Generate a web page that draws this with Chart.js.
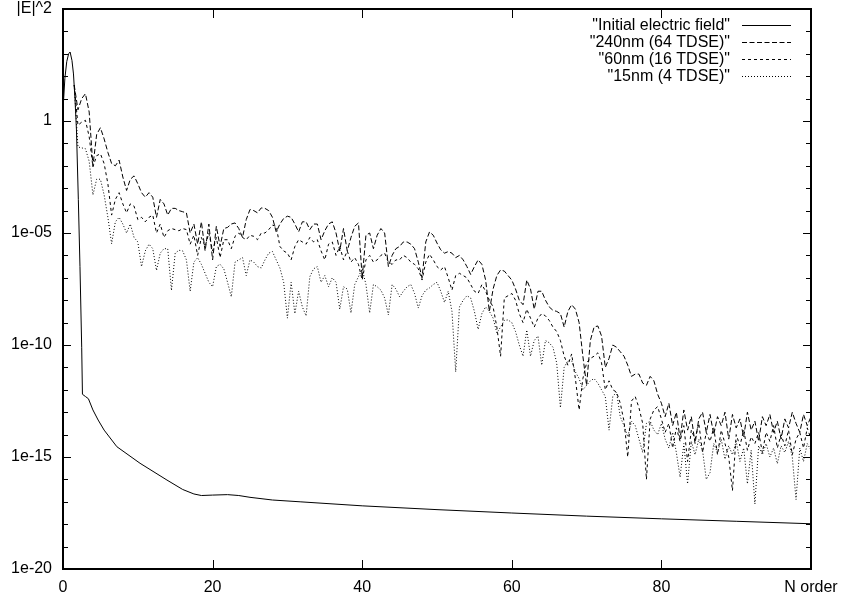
<!DOCTYPE html>
<html>
<head>
<meta charset="utf-8">
<script src="https://cdn.jsdelivr.net/npm/chart.js@4/dist/chart.umd.min.js"></script>
<style>
html,body{margin:0;padding:0;background:#fff;}
#wrap{width:843px;height:601px;position:relative;}
</style>
</head>
<body>
<div id="wrap"><canvas id="c" width="843" height="601"></canvas></div>
<script>
// ---- data (|E|^2 given as log10 values; y axis is in decades) ----
const nOrder = [
0,0.5,1,1.5,2,2.5,3,3.5,4,4.5, 5,5.5,6,6.5,7,7.5,8,8.5,9,9.5,
10,10.5,11,11.5,12,12.5,13,13.5,14,14.5, 15,15.5,16,16.5,17,17.5,18,18.5,19,19.5,
20,20.5,21,21.5,22,22.5,23,23.5,24,24.5, 25,25.5,26,26.5,27,27.5,28,28.5,29,29.5,
30,30.5,31,31.5,32,32.5,33,33.5,34,34.5, 35,35.5,36,36.5,37,37.5,38,38.5,39,39.5,
40,40.5,41,41.5,42,42.5,43,43.5,44,44.5, 45,45.5,46,46.5,47,47.5,48,48.5,49,49.5,
50,50.5,51,51.5,52,52.5,53,53.5,54,54.5, 55,55.5,56,56.5,57,57.5,58,58.5,59,59.5,
60,60.5,61,61.5,62,62.5,63,63.5,64,64.5, 65,65.5,66,66.5,67,67.5,68,68.5,69,69.5,
70,70.5,71,71.5,72,72.5,73,73.5,74,74.5, 75,75.5,76,76.5,77,77.5,78,78.5,79,79.5,
80,80.5,81,81.5,82,82.5,83,83.5,84,84.5, 85,85.5,86,86.5,87,87.5,88,88.5,89,89.5,
90,90.5,91,91.5,92,92.5,93,93.5,94,94.5, 95,95.5,96,96.5,97,97.5,98,98.5,99,99.5,
100];

const initialN = [0,0.25,0.5,0.75,0.95,1.2,1.4,1.6,1.8,2.05,2.27,2.5,2.6,3.0,3.4,4.0,4.7,5.5,7.2,10.3,13.9,16,17.5,18.5,20,22,23.5,25,28,31.7,40,50,60,70,80,90,100];
const initialLogE2 = [0.5,1.9,2.65,3.0,3.08,2.7,2.1,1.0,-0.4,-3.5,-6.5,-10.1,-12.2,-12.3,-12.4,-12.9,-13.35,-13.8,-14.54,-15.28,-16.03,-16.45,-16.65,-16.72,-16.7,-16.68,-16.72,-16.8,-16.92,-17.0,-17.18,-17.35,-17.5,-17.64,-17.76,-17.87,-17.98];

const logE2_240nm = [
null,null,null,1.6,0.5,1.0,1.22,0.4,-2.0,-0.6,
-0.3,-0.8,-1.4,-1.9,-2.0,-1.75,-2.5,-3.1,-2.6,-2.45,
-2.8,-3.2,-3.4,-3.2,-3.4,-4.3,-3.5,-3.7,-4.2,-3.9,
-3.9,-4.0,-4.05,-4.1,-5.0,-4.6,-5.5,-4.5,-5.8,-4.6,
-6.2,-4.7,-5.6,-4.8,-4.75,-4.6,-4.55,-4.8,-5.2,-4.4,
-3.95,-4.0,-4.1,-3.88,-3.9,-4.0,-4.3,-4.95,-4.6,-4.35,
-4.25,-4.3,-4.6,-4.95,-4.5,-4.5,-4.85,-4.6,-4.6,-5.3,
-4.9,-4.6,-4.5,-5.0,-5.8,-4.8,-5.8,-5.2,-4.7,-4.55,
-7.0,-5.1,-5.0,-5.7,-5.1,-4.8,-5.0,-6.5,-6.0,-5.7,
-5.6,-5.4,-5.4,-5.5,-5.7,-6.3,-7.0,-5.4,-4.95,-5.1,
-5.45,-5.75,-5.9,-5.83,-5.9,-6.1,-6.0,-6.2,-6.5,-6.85,
-6.5,-6.2,-6.4,-7.1,-8.5,-7.5,-6.9,-6.65,-6.7,-6.9,
-7.1,-7.5,-8.0,-8.2,-7.1,-7.5,-8.4,-7.6,-7.6,-8.0,
-8.3,-8.45,-8.5,-8.6,-9.2,-8.5,-8.2,-8.4,-9.0,-10.5,
-11.8,-9.8,-9.2,-9.15,-9.6,-11.0,-10.6,-10.0,-10.1,-10.3,
-10.5,-10.9,-11.4,-11.3,-11.3,-11.7,-11.8,-11.4,-11.6,-12.2,
-12.6,-13.2,-12.6,-13.6,-13.0,-14.2,-12.9,-13.8,-13.2,-14.4,
-13.3,-13.0,-13.9,-13.1,-14.0,-13.2,-13.6,-13.0,-14.2,-13.1,
-13.7,-13.3,-14.1,-13.0,-13.8,-13.4,-14.3,-13.2,-13.6,-13.1,
-13.9,-13.4,-14.2,-13.3,-13.7,-13.0,-13.5,-13.9,-13.1,-13.6,
-13.2];

const logE2_60nm = [
null,null,null,1.6,-0.19,-0.05,0.03,-0.7,-2.05,-1.55,
-1.46,-1.9,-2.8,-4.2,-3.5,-3.2,-3.7,-4.1,-3.7,-3.8,
-4.4,-4.3,-4.5,-4.3,-4.2,-5.0,-4.6,-5.2,-4.9,-4.8,
-4.85,-4.9,-4.8,-4.85,-5.5,-5.1,-6.0,-5.2,-5.6,-5.0,
-5.8,-5.2,-6.1,-5.3,-5.3,-5.7,-5.15,-5.0,-5.2,-5.3,
-5.1,-5.15,-5.3,-5.0,-5.0,-4.85,-4.65,-4.7,-5.6,-5.8,
-5.9,-6.2,-5.6,-5.3,-5.4,-5.5,-5.2,-5.4,-5.3,-5.8,
-6.2,-5.5,-5.4,-6.0,-5.6,-6.2,-5.8,-6.3,-6.1,-6.4,
-7.1,-6.2,-6.0,-6.3,-6.2,-6.0,-5.9,-6.3,-6.4,-6.2,
-6.2,-6.0,-6.1,-6.3,-6.4,-6.6,-7.1,-6.3,-5.95,-6.2,
-6.5,-6.65,-6.5,-7.0,-7.55,-6.9,-6.8,-6.9,-7.0,-7.3,
-7.6,-7.7,-7.3,-7.6,-8.0,-8.3,-9.2,-10.5,-7.9,-7.8,
-7.7,-8.0,-8.6,-9.0,-8.4,-8.8,-9.2,-8.8,-8.6,-8.7,
-8.9,-9.2,-9.4,-9.8,-10.5,-10.9,-10.4,-11.5,-12.9,-11.5,
-10.8,-10.6,-10.5,-10.35,-10.8,-12.0,-11.6,-12.0,-12.1,-12.6,
-13.4,-15.0,-12.5,-12.3,-12.8,-13.5,-16.0,-13.3,-12.9,-12.75,
-13.3,-13.9,-13.5,-14.6,-13.7,-14.3,-13.6,-15.2,-13.8,-14.2,
-13.5,-14.8,-13.9,-14.3,-13.7,-14.9,-13.8,-14.4,-15.0,-16.5,
-14.0,-14.5,-13.8,-14.7,-14.1,-14.4,-13.9,-14.8,-13.9,-14.3,
-13.6,-14.6,-14.0,-14.5,-13.8,-14.9,-14.2,-13.9,-14.6,-13.7,
-14.2];

const logE2_15nm = [
null,null,null,1.6,-1.16,-1.2,-1.24,-1.8,-3.3,-2.6,
-2.6,-3.3,-4.3,-5.48,-4.5,-4.3,-4.6,-5.0,-4.6,-5.2,
-5.4,-6.5,-5.8,-5.5,-5.7,-6.67,-5.9,-5.7,-5.7,-7.56,
-5.9,-5.77,-5.8,-6.2,-7.6,-6.3,-6.1,-6.4,-6.8,-7.2,
-7.4,-6.5,-6.4,-6.6,-7.2,-7.85,-6.3,-6.2,-6.1,-6.9,
-6.2,-6.3,-6.5,-6.56,-6.2,-5.9,-5.83,-6.2,-6.56,-7.2,
-8.8,-7.2,-8.6,-7.6,-8.3,-8.7,-6.95,-6.6,-6.5,-7.2,
-6.9,-7.4,-7.0,-7.2,-8.4,-7.4,-7.5,-8.57,-7.3,-6.95,
-6.6,-7.3,-8.57,-7.3,-7.4,-7.55,-7.9,-8.66,-7.3,-7.5,
-7.85,-7.6,-7.4,-7.3,-7.7,-8.35,-7.8,-7.55,-7.45,-7.3,
-7.2,-7.6,-8.1,-7.6,-8.5,-11.2,-8.3,-8.0,-7.8,-7.9,
-8.5,-9.3,-8.6,-8.3,-8.5,-8.8,-9.46,-9.2,-8.9,-8.88,
-9.0,-9.4,-10.0,-10.5,-9.33,-10.5,-9.8,-9.6,-10.9,-9.8,
-9.9,-10.1,-10.8,-12.8,-11.0,-10.7,-10.7,-11.2,-11.5,-12.0,
-11.8,-11.6,-11.5,-11.7,-12.0,-12.3,-13.8,-12.3,-12.1,-13.2,
-13.6,-14.1,-13.4,-13.6,-14.2,-14.8,-13.5,-13.4,-13.8,-14.0,
-13.5,-14.2,-14.6,-13.9,-14.8,-15.9,-14.4,-16.2,-14.3,-14.9,
-14.2,-14.7,-16.0,-15.7,-14.4,-14.8,-14.2,-15.1,-14.5,-14.9,
-14.3,-15.2,-14.6,-16.2,-14.7,-17.1,-14.5,-14.9,-14.4,-15.0,
-14.6,-15.3,-14.5,-14.8,-14.3,-15.0,-16.9,-14.6,-15.2,-14.4,
-14.7];

const seriesLabels = ['"Initial electric field"', '"240nm (64 TDSE)"', '"60nm (16 TDSE)"', '"15nm (4 TDSE)"'];

const xTickValues = [0, 20, 40, 60, 80, 100];
const xTickLabels = ['0', '20', '40', '60', '80', 'N order'];
const yTickValues = [-20, -15, -10, -5, 0, 5];
const yTickLabels = ['1e-20', '1e-15', '1e-10', '1e-05', '1', '|E|^2'];

// ---- chart ----
const FONT = "'Liberation Sans', Arial, Helvetica, sans-serif";
Chart.defaults.font.family = FONT;
Chart.defaults.font.size = 16;
Chart.defaults.color = '#000';

function pairs(xs, ys) { return xs.map((v, i) => ({x: v, y: ys[i]})); }
function noPad(s) { s.paddingTop = 0; s.paddingBottom = 0; s.paddingLeft = 0; s.paddingRight = 0; }

const gnuplotPlugin = {
  id: 'gnuplotFrame',
  afterDatasetsDraw(chart) {
    const {ctx, chartArea: a, scales: {x, y}} = chart;
    ctx.save();
    ctx.strokeStyle = '#000';
    ctx.setLineDash([]);
    ctx.lineWidth = 1;
    ctx.beginPath();
    x.ticks.forEach(t => {
      const px = Math.round(x.getPixelForValue(t.value)) + 0.5;
      ctx.moveTo(px, a.bottom); ctx.lineTo(px, a.bottom - 9);
      ctx.moveTo(px, a.top); ctx.lineTo(px, a.top + 9);
    });
    y.ticks.forEach(t => {
      const py = Math.round(y.getPixelForValue(t.value)) + 0.5;
      const len = yTickValues.includes(t.value) ? 8 : 5;
      ctx.moveTo(a.left, py); ctx.lineTo(a.left + len, py);
      ctx.moveTo(a.right, py); ctx.lineTo(a.right - len, py);
    });
    ctx.stroke();
    ctx.lineWidth = 2;
    ctx.strokeRect(a.left, a.top, a.right - a.left, a.bottom - a.top);

    // key (gnuplot style: right-aligned text, sample line on the right)
    ctx.font = '16px ' + FONT;
    ctx.fillStyle = '#000';
    ctx.textAlign = 'right';
    ctx.textBaseline = 'middle';
    chart.data.datasets.forEach((ds, i) => {
      const yy = 25 + i * 17;
      ctx.fillText(ds.label, 730, yy + 1);
      ctx.lineWidth = 1;
      ctx.setLineDash(ds.borderDash || []);
      ctx.beginPath();
      ctx.moveTo(742, yy + 0.5); ctx.lineTo(791, yy + 0.5);
      ctx.stroke();
    });
    ctx.restore();
  }
};

const lineStyle = {borderColor: '#000', borderWidth: 1, pointRadius: 0, tension: 0, fill: false, spanGaps: false};

new Chart(document.getElementById('c'), {
  type: 'line',
  data: {
    datasets: [
      Object.assign({label: seriesLabels[0], data: pairs(initialN, initialLogE2), borderDash: []}, lineStyle),
      Object.assign({label: seriesLabels[1], data: pairs(nOrder, logE2_240nm), borderDash: [5, 2.5]}, lineStyle),
      Object.assign({label: seriesLabels[2], data: pairs(nOrder, logE2_60nm), borderDash: [3, 3]}, lineStyle),
      Object.assign({label: seriesLabels[3], data: pairs(nOrder, logE2_15nm), borderDash: [1, 2]}, lineStyle)
    ]
  },
  options: {
    responsive: false,
    animation: false,
    parsing: true,
    layout: {autoPadding: false, padding: {top: 9, right: 32, left: 0, bottom: 0}},
    plugins: {legend: {display: false}, tooltip: {enabled: false}, title: {display: false}},
    scales: {
      x: {
        type: 'linear', min: 0, max: 100,
        grid: {display: false, drawTicks: false},
        border: {display: false},
        afterBuildTicks: s => { s.ticks = xTickValues.map(v => ({value: v})); },
        ticks: {
          padding: 9, maxRotation: 0, autoSkip: false,
          callback: v => { const k = xTickValues.indexOf(v); return k >= 0 ? xTickLabels[k] : ''; }
        },
        afterFit: s => { s.height = 32; noPad(s); }
      },
      y: {
        type: 'linear', min: -20, max: 5,
        grid: {display: false, drawTicks: false},
        border: {display: false},
        afterBuildTicks: s => { const t = []; for (let v = -20; v <= 5; v++) t.push({value: v}); s.ticks = t; },
        ticks: {
          padding: 11, autoSkip: false,
          callback: v => { const k = yTickValues.indexOf(v); return k >= 0 ? yTickLabels[k] : ''; }
        },
        afterFit: s => { s.width = 63; noPad(s); }
      }
    }
  },
  plugins: [gnuplotPlugin]
});
</script>
</body>
</html>
